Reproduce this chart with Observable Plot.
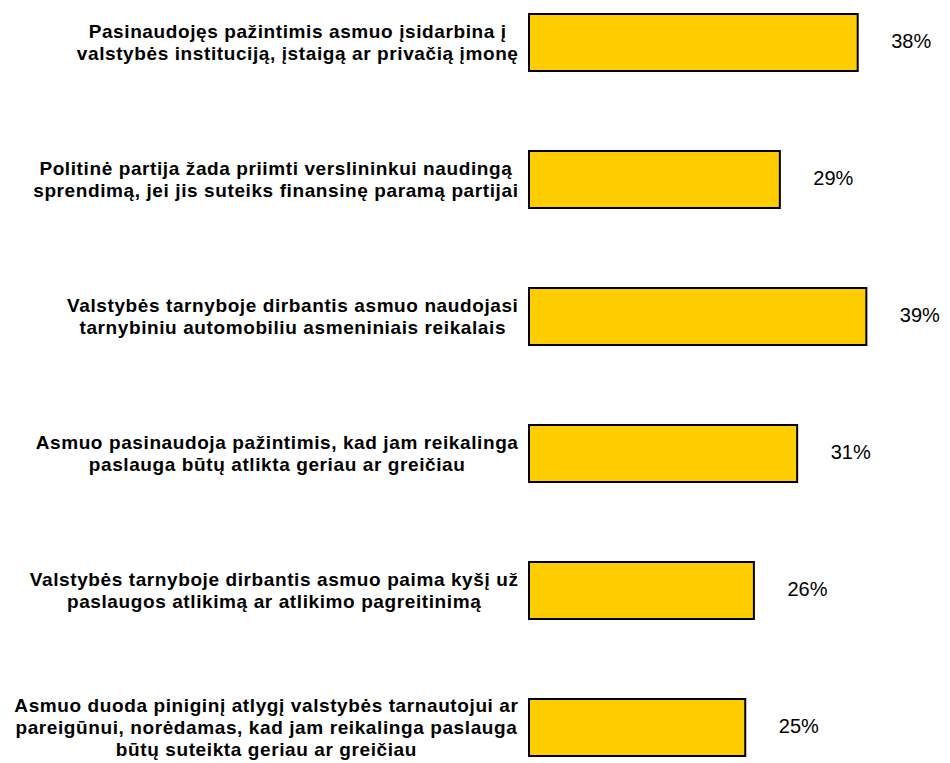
<!DOCTYPE html>
<html>
<head>
<meta charset="utf-8">
<script src="https://cdn.jsdelivr.net/npm/d3@7"></script>
<script src="https://cdn.jsdelivr.net/npm/@observablehq/plot@0.6"></script>
<style>
  html, body { margin: 0; padding: 0; background: #fff; }
  #chart svg { display: block; }
</style>
</head>
<body>
<div id="chart"></div>
<script>
const categories = [
  "Pasinaudojęs pažintimis asmuo įsidarbina į\nvalstybės instituciją, įstaigą ar privačią įmonę",
  "Politinė partija žada priimti verslininkui naudingą\nsprendimą, jei jis suteiks finansinę paramą partijai",
  "Valstybės tarnyboje dirbantis asmuo naudojasi\ntarnybiniu automobiliu asmeniniais reikalais",
  "Asmuo pasinaudoja pažintimis, kad jam reikalinga\npaslauga būtų atlikta geriau ar greičiau",
  "Valstybės tarnyboje dirbantis asmuo paima kyšį už\npaslaugos atlikimą ar atlikimo pagreitinimą",
  "Asmuo duoda piniginį atlygį valstybės tarnautojui ar\npareigūnui, norėdamas, kad jam reikalinga paslauga\nbūtų suteikta geriau ar greičiau"
];
const values = [38, 29, 39, 31, 26, 25];
const valueLabels = ["38%", "29%", "39%", "31%", "26%", "25%"];

const data = categories.map((c, i) => ({category: c, value: values[i], label: valueLabels[i]}));

const W = 950, H = 763, ML = 529;
const FONT = "'Liberation Sans', Arial, sans-serif";
const labelSize = 19, labelSpacing = 0.6;
const labelRight = 518;

// measure the widest line of each label so the centred block ends at the same right edge
const ctx = document.createElement("canvas").getContext("2d");
ctx.font = `bold ${labelSize}px ${FONT}`;
const lineWidth = s => ctx.measureText(s).width + labelSpacing * s.length;
const labelMarks = data.map(d => {
  const maxW = d3.max(d.category.split("\n"), lineWidth);
  const center = labelRight - maxW / 2;
  return Plot.text([d], {
    y: "category",
    text: "category",
    frameAnchor: "left",
    dx: center - ML,
    dy: -1,
    textAnchor: "middle",
    lineAnchor: "middle",
    lineHeight: 1.16,
    fontWeight: "bold",
    fontSize: labelSize,
    fill: "#000",
    style: {letterSpacing: labelSpacing + "px"}
  });
});

const chart = Plot.plot({
  width: W,
  height: H,
  marginLeft: ML,
  marginRight: 0,
  marginTop: 13,
  marginBottom: 6,
  style: {fontFamily: FONT, background: "#fff"},
  x: {domain: [0, 48.67], axis: null},
  y: {domain: categories, axis: null, paddingInner: 0.585, paddingOuter: 0},
  marks: [
    Plot.barX(data, {y: "category", x: "value", fill: "#FFCC00", stroke: "#000", strokeWidth: 2}),
    Plot.text(data, {y: "category", x: "value", text: "label", dx: 33, dy: -1, textAnchor: "start", fontSize: 20, fill: "#000"}),
    ...labelMarks
  ]
});
chart.querySelectorAll("text").forEach(t => {
  if (t.getAttribute("font-weight") === "bold" || t.closest("g[font-weight='bold']")) t.style.letterSpacing = labelSpacing + "px";
});
document.getElementById("chart").append(chart);
</script>
</body>
</html>
